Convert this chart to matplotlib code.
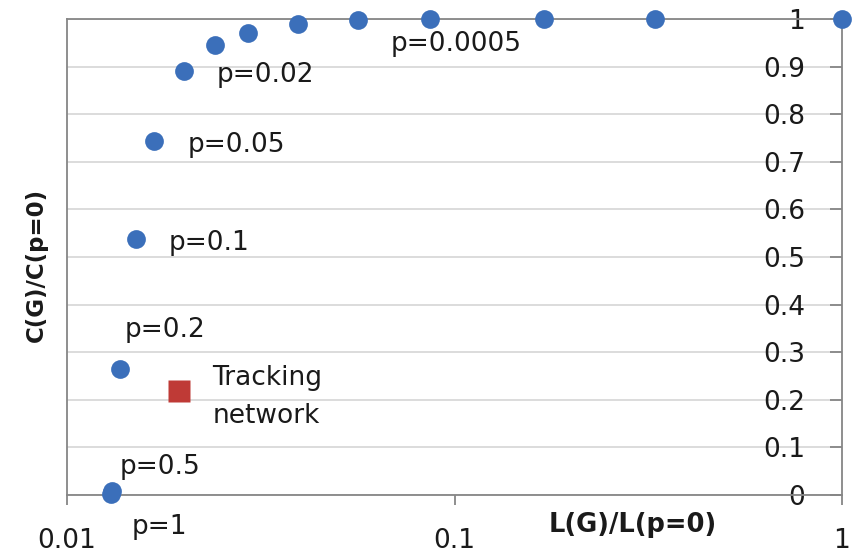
import matplotlib
matplotlib.use("Agg")
import matplotlib.pyplot as plt

# small-world sweep: normalised path length vs clustering, one point per rewiring p
L_ratio = [0.0130, 0.0131, 0.0137, 0.0151, 0.0168, 0.0200, 0.0241, 0.0294,
           0.0395, 0.0565, 0.0867, 0.170, 0.330, 1.0]
C_ratio = [0.003, 0.008, 0.265, 0.538, 0.744, 0.891, 0.945, 0.971,
           0.989, 0.998, 1.0, 1.0, 1.0, 1.0]
p_labels = {0: "p=1", 1: "p=0.5", 2: "p=0.2", 3: "p=0.1", 4: "p=0.05",
            5: "p=0.02", 10: "p=0.0005"}
# label offsets in pixels (dx to left edge, dy to baseline)
p_offsets = {0: (20, -40), 1: (7, 17), 2: (5, 32), 3: (32, -11), 4: (33, -11),
             5: (33, -11), 10: (-40, -32)}

track_L = [0.0194]
track_C = [0.218]

xticks = [0.01, 0.1, 1]
xticklabels = ["0.01", "0.1", "1"]
yticks = [0, 0.1, 0.2, 0.3, 0.4, 0.5, 0.6, 0.7, 0.8, 0.9, 1]
yticklabels = ["0", "0.1", "0.2", "0.3", "0.4", "0.5", "0.6", "0.7", "0.8", "0.9", "1"]

BLUE, RED, AX, GRID, TXT = "#3B6FBA", "#BF3A36", "#868686", "#D9D9D9", "#1a1a1a"
FS = 19

fig = plt.figure(figsize=(8.62, 5.56), dpi=100)
ax = fig.add_axes([67/862, 61/556, 775/862, 476/556])

ax.set_xscale("log")
ax.set_xlim(0.01, 1)
ax.set_ylim(0, 1)

ax.plot(L_ratio, C_ratio, "o", color=BLUE, ms=13.5, mec="none", clip_on=False, zorder=3)
ax.plot(track_L, track_C, "s", color=RED, ms=16.5, mec="none", zorder=3)

for i, lab in p_labels.items():
    dx, dy = p_offsets[i]
    ax.annotate(lab, (L_ratio[i], C_ratio[i]), xytext=(dx, dy), textcoords="offset pixels",
                ha="left", va="baseline", fontsize=FS, color=TXT, annotation_clip=False)
ax.annotate("Tracking", (track_L[0], track_C[0]), xytext=(34, 6), textcoords="offset pixels",
            ha="left", va="baseline", fontsize=FS, color=TXT)
ax.annotate("network", (track_L[0], track_C[0]), xytext=(34, -32), textcoords="offset pixels",
            ha="left", va="baseline", fontsize=FS, color=TXT)

# value axis crosses at x = 1 (right spine), labels drawn on its inner side
for s in ax.spines.values():
    s.set_color(AX); s.set_linewidth(1.3)
ax.yaxis.set_ticks_position("right")
ax.set_yticks(yticks); ax.set_yticklabels(yticklabels)
ax.set_xticks(xticks); ax.set_xticklabels(xticklabels)
ax.minorticks_off()
ax.tick_params(axis="y", direction="in", length=8.5, width=1.3, color=AX, pad=-26.5,
               labelsize=FS, labelcolor=TXT)
for t in ax.get_yticklabels():
    t.set_horizontalalignment("right")
ax.tick_params(axis="x", direction="out", length=7, width=1.3, color=AX, pad=17,
               labelsize=FS, labelcolor=TXT)
ax.grid(axis="y", color=GRID, lw=1.3)
ax.set_axisbelow(True)

fig.text(633/862, 1-525/556, "L(G)/L(p=0)", ha="center", va="center",
         fontsize=18.5, fontweight="bold", color=TXT)
fig.text(36/862, 1-265/556, "C(G)/C(p=0)", ha="center", va="center", rotation=90,
         fontsize=16.5, fontweight="bold", color=TXT)

fig.savefig("out.png", dpi=100)
